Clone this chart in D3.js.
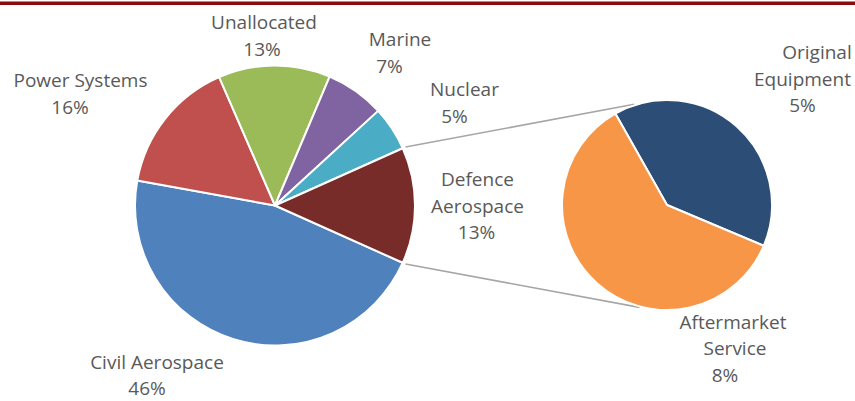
<!DOCTYPE html>
<html>
<head>
<meta charset="utf-8">
<script src="https://cdn.jsdelivr.net/npm/d3@7"></script>
<style>
  html, body { margin: 0; padding: 0; background: #fff; }
  svg { display: block; }
  text { font-family: "Open Sans", Lato, sans-serif; fill: #595959; }
</style>
</head>
<body>
<svg id="chart" width="855" height="401"></svg>
<script>
// Main pie
const mainCategories = ["Civil Aerospace", "Power Systems", "Unallocated", "Marine", "Nuclear", "Defence Aerospace"];
const mainValues = [46.1, 15.6, 12.9, 6.8, 5.1, 13.4];
const mainColors = ["#4F81BD", "#C0504D", "#9BBB59", "#8064A2", "#4BACC6", "#772C2A"];
// Label lines (split of category names)
const mainLabelLines = [["Civil Aerospace"], ["Power Systems"], ["Unallocated"], ["Marine"], ["Nuclear"], ["Defence", "Aerospace"]];

// Secondary pie (breakdown of Defence Aerospace)
const subCategories = ["Original Equipment", "Aftermarket Service"];
const subValues = [5.3, 8.1];
const subColors = ["#2C4D75", "#F79646"];
const subLabelLines = [["Original", "Equipment"], ["Aftermarket", "Service"]];

const svg = d3.select("#chart");
const W = 855, H = 401;

// top rule
svg.append("rect").attr("x", 0).attr("y", 1.5).attr("width", W).attr("height", 3.5).attr("fill", "#8B0A0A");

const deg = Math.PI / 180;
const main = { cx: 275, cy: 205.5, r: 140 };
const sub = { cx: 667, cy: 205, r: 105 };

const mainTotal = d3.sum(mainValues);
const defShare = mainValues[5] / mainTotal * 360;
const mainStart = (90 + defShare / 2) * deg;

const mainPie = d3.pie().sort(null).value(d => d)
  .startAngle(mainStart).endAngle(mainStart + 2 * Math.PI);
const mainArcs = mainPie(mainValues);
const arcMain = d3.arc().innerRadius(0).outerRadius(main.r);

const gMain = svg.append("g").attr("transform", `translate(${main.cx},${main.cy})`);
gMain.selectAll("path").data(mainArcs).join("path")
  .attr("d", arcMain)
  .attr("fill", (d, i) => mainColors[i])
  .attr("stroke", "#fff").attr("stroke-width", 2).attr("stroke-linejoin", "round");

const subStart = -29.5 * deg;
const subPie = d3.pie().sort(null).value(d => d)
  .startAngle(subStart).endAngle(subStart + 2 * Math.PI);
const subArcs = subPie(subValues);
const arcSub = d3.arc().innerRadius(0).outerRadius(sub.r);

// connector lines from Defence slice edges to secondary pie
const defArc = mainArcs[5];
function polar(c, r, a) { return [c.cx + r * Math.sin(a), c.cy - r * Math.cos(a)]; }
const p1 = polar(main, main.r + 3, defArc.startAngle);
const p2 = polar(main, main.r + 3, defArc.endAngle);
const q1 = polar(sub, sub.r + 1, -18 * deg);
const q2 = polar(sub, sub.r + 1, 195 * deg);
svg.append("line").attr("x1", p1[0]).attr("y1", p1[1]).attr("x2", q1[0]).attr("y2", q1[1])
  .attr("stroke", "#A6A6A6").attr("stroke-width", 1.6);
svg.append("line").attr("x1", p2[0]).attr("y1", p2[1]).attr("x2", q2[0]).attr("y2", q2[1])
  .attr("stroke", "#A6A6A6").attr("stroke-width", 1.6);

const gSub = svg.append("g").attr("transform", `translate(${sub.cx},${sub.cy})`);
gSub.selectAll("path").data(subArcs).join("path")
  .attr("d", arcSub)
  .attr("fill", (d, i) => subColors[i])
  .attr("stroke", "#fff").attr("stroke-width", 2).attr("stroke-linejoin", "round");

// labels: [x centre per line], first baseline
const fs = 19, lh = 26.5;
const mainLabelPos = [
  { xs: [157, 147], y: 368.5 },
  { xs: [80.5, 70], y: 87 },
  { xs: [264, 262], y: 29 },
  { xs: [400, 389.5], y: 46 },
  { xs: [464.5, 454.5], y: 96 },
  { xs: [477.5, 477.5, 476.5], y: 186 }
];
const subLabelPos = [
  { xs: [817, 802.5, 802.5], y: 59 },
  { xs: [733, 735, 725], y: 328.5 }
];
function pct(v, total) { return Math.round(v / total * 100) + "%"; }

function drawLabel(lines, pos) {
  const t = svg.append("text").attr("font-size", fs).attr("text-anchor", "middle");
  lines.forEach((s, j) => {
    t.append("tspan").attr("x", pos.xs[j]).attr("y", pos.y + j * lh).text(s);
  });
}
mainCategories.forEach((c, i) => {
  drawLabel(mainLabelLines[i].concat([pct(mainValues[i], mainTotal)]), mainLabelPos[i]);
});
subCategories.forEach((c, i) => {
  drawLabel(subLabelLines[i].concat([pct(subValues[i], mainTotal)]), subLabelPos[i]);
});
</script>
</body>
</html>
